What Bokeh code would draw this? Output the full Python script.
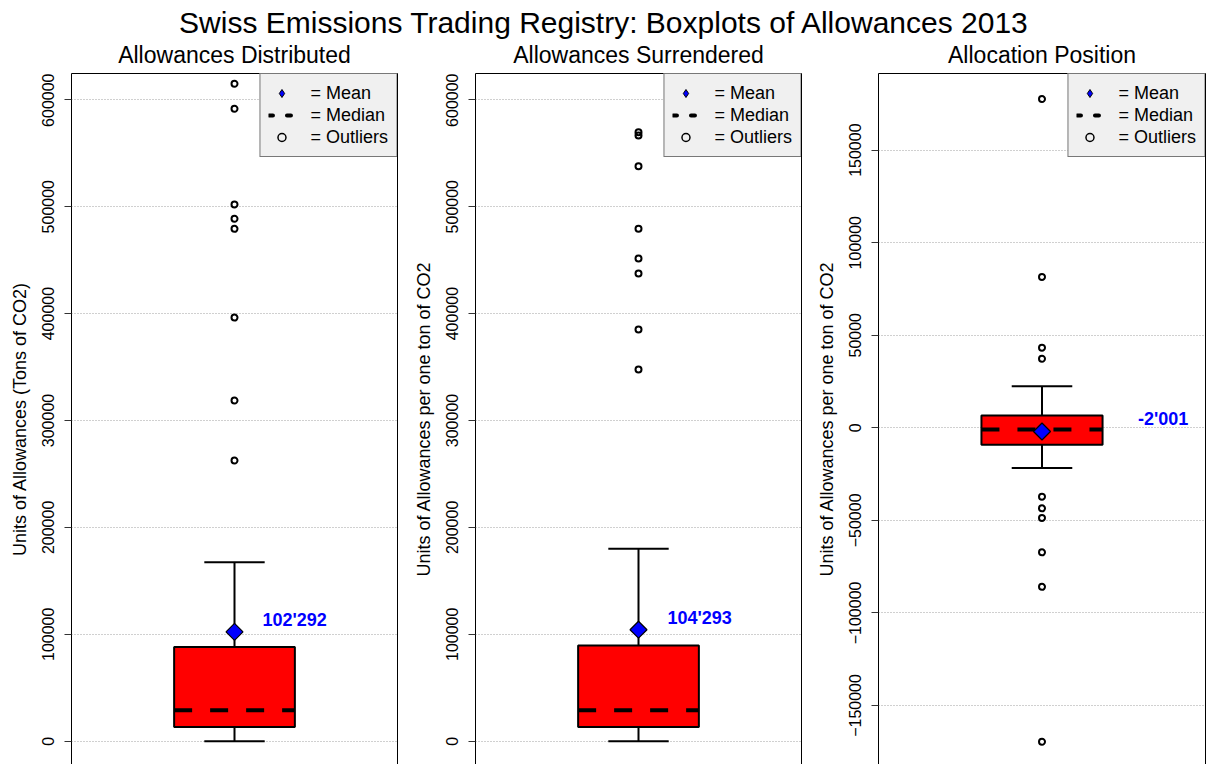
import math
from bokeh.plotting import figure
from bokeh.models import (Range1d, LinearAxis, FixedTicker, BasicTickFormatter,
                          Legend, LegendItem)
from bokeh.layouts import column, row
from bokeh.embed import file_html
from bokeh.resources import INLINE
from bokeh.core.properties import value

FONT = "Liberation Sans"

# ---------------- data ----------------
main_title = "Swiss Emissions Trading Registry: Boxplots of Allowances 2013"
panel_titles = ["Allowances Distributed", "Allowances Surrendered", "Allocation Position"]
y_axis_titles = ["Units of Allowances (Tons of CO2)",
                 "Units of Allowances per one ton of CO2",
                 "Units of Allowances per one ton of CO2"]
legend_labels = ["= Mean", "= Median", "= Outliers"]

lower_whisker = [0, 0, -21700]
q1 = [13200, 13200, -9200]
median = [28900, 28900, -900]
q3 = [88000, 89600, 6700]
upper_whisker = [167500, 180000, 22400]
mean = [102292, 104293, -2001]

outliers_distributed = [615000, 591600, 502100, 488700, 479300, 396300, 318700, 262600]
outliers_surrendered = [569700, 566600, 537900, 479300, 451500, 437500, 385100, 347700]
outliers_position = [177600, 81500, 43300, 37300, -37200, -43500, -48700, -67300, -85900, -169600]
outliers = [outliers_distributed, outliers_surrendered, outliers_position]

ticks_allowances = [0, 100000, 200000, 300000, 400000, 500000, 600000]
ticks_position = [-150000, -100000, -50000, 0, 50000, 100000, 150000]

# ---------------- layout / style ----------------
POS = 1.0
BOX_HALF = 0.2
CAP_HALF = 0.1
TITLE_H = 73
PANEL_H = 691

panel_specs = [
    dict(width=405, left=71, right=8, yr=(-21800, 624600), ticks=ticks_allowances, label_dx=28),
    dict(width=404, left=70, right=8, yr=(-21800, 624600), ticks=ticks_allowances, label_dx=29),
    dict(width=398, left=69, right=2, yr=(-181900, 191400), ticks=ticks_position, label_dx=96),
]


def fmt_swiss(v):
    return f"{v:,.0f}".replace(",", "'")


def border_axis():
    return LinearAxis(ticker=FixedTicker(ticks=[]), major_tick_line_color=None,
                      minor_tick_line_color=None, major_tick_out=0, minor_tick_out=0,
                      major_tick_in=0, minor_tick_in=0, major_label_standoff=0,
                      major_label_text_font_size="0px", axis_line_color="black",
                      axis_line_width=1)


def make_panel(i, spec):
    p = figure(width=spec["width"], height=PANEL_H,
               x_range=Range1d(0.46, 1.54), y_range=Range1d(*spec["yr"]),
               output_backend="svg", toolbar_location=None,
               x_axis_location=None, y_axis_location="left",
               min_border_left=spec["left"], min_border_right=spec["right"],
               min_border_top=0, min_border_bottom=0,
               outline_line_color=None, background_fill_color="white",
               border_fill_color="white")
    p.xgrid.visible = False

    ax = p.yaxis[0]
    ax.ticker = FixedTicker(ticks=spec["ticks"])
    ax.formatter = BasicTickFormatter(use_scientific=False)
    ax.major_label_orientation = "vertical"
    ax.major_label_text_font = FONT
    ax.major_label_text_font_size = "16px"
    ax.major_label_text_color = "black"
    ax.major_tick_out = 7
    ax.major_tick_in = 0
    ax.major_tick_line_color = "#333333"
    ax.minor_tick_line_color = None
    ax.axis_line_color = "black"
    ax.major_label_standoff = 10
    ax.axis_label = y_axis_titles[i]
    ax.axis_label_text_font = FONT
    ax.axis_label_text_font_size = "18px"
    ax.axis_label_text_font_style = "normal"
    ax.axis_label_text_color = "black"
    ax.axis_label_standoff = 10

    p.ygrid.ticker = FixedTicker(ticks=spec["ticks"])
    p.ygrid.grid_line_color = "#a0a0a0"
    p.ygrid.grid_line_dash = "1 2"
    p.ygrid.grid_line_width = 1

    p.add_layout(border_axis(), "above")
    p.add_layout(border_axis(), "right")

    # whiskers
    p.segment(x0=[POS, POS], y0=[lower_whisker[i], q3[i]], x1=[POS, POS],
              y1=[q1[i], upper_whisker[i]], line_color="black", line_width=2)
    # caps
    p.segment(x0=[POS - CAP_HALF] * 2, x1=[POS + CAP_HALF] * 2,
              y0=[lower_whisker[i], upper_whisker[i]], y1=[lower_whisker[i], upper_whisker[i]],
              line_color="black", line_width=2)
    # box
    p.vbar(x=[POS], width=2 * BOX_HALF, bottom=[q1[i]], top=[q3[i]],
           fill_color="#ff0000", line_color="black", line_width=2)
    # median
    p.segment(x0=[POS - BOX_HALF], x1=[POS + BOX_HALF], y0=[median[i]], y1=[median[i]],
              line_color="black", line_width=4, line_dash="18 18")
    # outliers
    p.scatter(x=[POS] * len(outliers[i]), y=outliers[i], marker="circle", size=6,
              fill_color=None, line_color="black", line_width=2)
    # mean
    p.scatter(x=[POS], y=[mean[i]], marker="square", angle=math.pi / 4, size=12,
              fill_color="#0000ff", line_color="black", line_width=1.2)
    p.text(x=[POS], y=[mean[i]], text=[fmt_swiss(mean[i])], x_offset=spec["label_dx"],
           y_offset=-12, text_color="#0000ff", text_font=value(FONT),
           text_font_style="bold", text_font_size="18px",
           text_align="left", text_baseline="middle")

    # legend proxies
    leg_mean = p.scatter(x=[POS], y=[mean[i]], marker="diamond", size=10,
                         fill_color="#0000ff", line_color="black", line_width=1, visible=False)
    leg_med = p.segment(x0=[POS], x1=[POS], y0=[median[i]], y1=[median[i]],
                        line_color="black", line_width=4, line_dash="4 14",
                        line_cap="round", visible=False)
    leg_out = p.scatter(x=[POS], y=[outliers[i][0]], marker="circle", size=6,
                        fill_color=None, line_color="black", line_width=1.5, visible=False)
    legend = Legend(items=[LegendItem(label=legend_labels[0], renderers=[leg_mean]),
                           LegendItem(label=legend_labels[1], renderers=[leg_med]),
                           LegendItem(label=legend_labels[2], renderers=[leg_out])],
                    location="top_right", margin=0, padding=8, spacing=0,
                    glyph_width=26, glyph_height=20, label_height=22, label_standoff=16,
                    label_text_font=FONT, label_text_font_size="18px",
                    label_text_color="black",
                    background_fill_color="#f0f0f0", background_fill_alpha=1.0,
                    border_line_color="black", border_line_width=1)
    p.add_layout(legend)
    return p


panels = [make_panel(i, s) for i, s in enumerate(panel_specs)]

total_w = sum(s["width"] for s in panel_specs)
tf = figure(width=total_w, height=TITLE_H, x_range=Range1d(0, total_w), y_range=Range1d(TITLE_H, 0),
            output_backend="svg", toolbar_location=None, x_axis_location=None,
            y_axis_location=None, min_border=0, outline_line_color=None)
tf.xgrid.visible = False
tf.ygrid.visible = False

tf.text(x=[604], y=[22], text=[main_title], text_font=value(FONT), text_font_size="30px",
        text_align="center", text_baseline="middle", text_color="black")
centers = []
xo = 0
for s in panel_specs:
    frame_w = s["width"] - s["left"] - s["right"]
    centers.append(xo + s["left"] + frame_w / 2)
    xo += s["width"]
tf.text(x=centers, y=[54] * 3, text=panel_titles, text_font=value(FONT), text_font_size="23px",
        text_align="center", text_baseline="middle", text_color="black")

layout = column(tf, row(*panels))
open("out.html", "w").write(file_html(layout, INLINE))
